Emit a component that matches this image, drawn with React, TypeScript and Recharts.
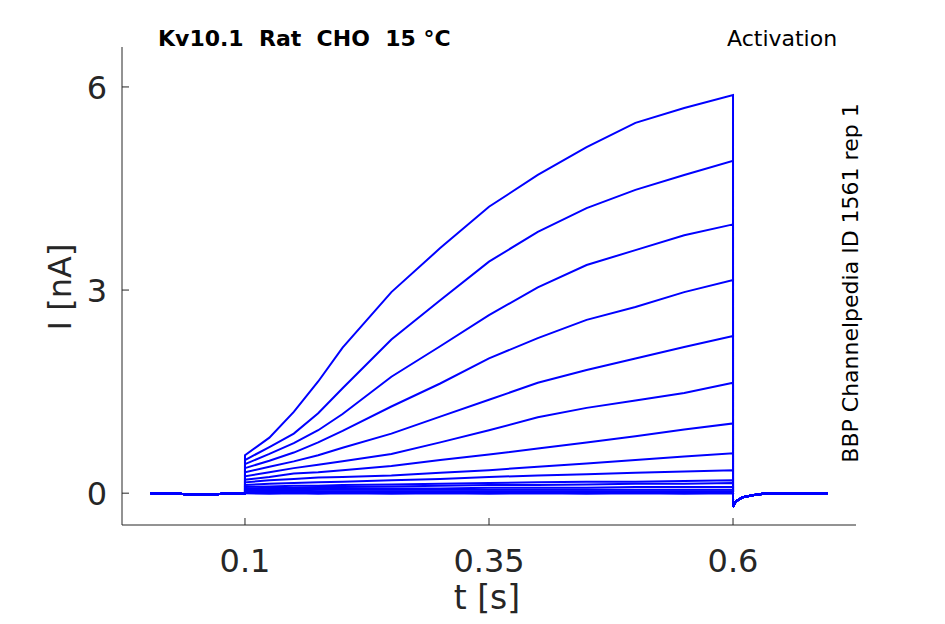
import React from 'react'
import { LineChart, Line, XAxis, YAxis } from 'recharts'

// baseline before the step (same for every sweep)
const preTimes = [0.003, 0.03, 0.04, 0.07, 0.08, 0.1]
const preValues = [0, 0, -0.02, -0.02, 0, 0]

// during the depolarising step
const stepTimes = [0.1, 0.125, 0.15, 0.175, 0.2, 0.25, 0.3, 0.35, 0.4, 0.45, 0.5, 0.55, 0.6]
const sweeps = [
  [0.56, 0.82, 1.2, 1.65, 2.15, 2.97, 3.62, 4.23, 4.7, 5.11, 5.47, 5.69, 5.88],
  [0.49, 0.68, 0.88, 1.18, 1.55, 2.27, 2.85, 3.42, 3.86, 4.21, 4.48, 4.7, 4.91],
  [0.43, 0.58, 0.74, 0.93, 1.17, 1.72, 2.17, 2.63, 3.04, 3.37, 3.59, 3.81, 3.97],
  [0.37, 0.48, 0.6, 0.75, 0.92, 1.28, 1.62, 1.99, 2.29, 2.56, 2.75, 2.97, 3.15],
  [0.31, 0.39, 0.47, 0.56, 0.67, 0.88, 1.13, 1.38, 1.63, 1.82, 1.99, 2.16, 2.32],
  [0.25, 0.31, 0.37, 0.42, 0.47, 0.58, 0.75, 0.93, 1.12, 1.26, 1.37, 1.48, 1.63],
  [0.2, 0.24, 0.29, 0.31, 0.34, 0.4, 0.49, 0.57, 0.66, 0.75, 0.84, 0.94, 1.03],
  [0.16, 0.19, 0.21, 0.23, 0.24, 0.26, 0.3, 0.34, 0.39, 0.44, 0.49, 0.54, 0.59],
  [0.12, 0.14, 0.15, 0.16, 0.17, 0.19, 0.21, 0.24, 0.26, 0.28, 0.3, 0.32, 0.34],
  [0.09, 0.1, 0.11, 0.11, 0.12, 0.13, 0.14, 0.15, 0.16, 0.17, 0.17, 0.18, 0.19],
  [0.07, 0.08, 0.08, 0.09, 0.09, 0.1, 0.11, 0.12, 0.12, 0.13, 0.14, 0.14, 0.15],
  [0.05, 0.06, 0.06, 0.06, 0.07, 0.07, 0.07, 0.08, 0.08, 0.08, 0.09, 0.09, 0.09],
  [0.04, 0.04, 0.04, 0.05, 0.05, 0.05, 0.05, 0.05, 0.05, 0.05, 0.05, 0.05, 0.05],
  [0.03, 0.03, 0.03, 0.03, 0.03, 0.03, 0.03, 0.03, 0.03, 0.03, 0.03, 0.03, 0.03],
  [0.01, 0.01, 0.01, 0.01, 0.01, 0.01, 0.01, 0.01, 0.01, 0.01, 0.01, 0.01, 0.01],
  [0.0, -0.01, 0.0, -0.01, 0.0, -0.01, 0.0, -0.01, 0.0, -0.01, 0.0, -0.01, 0.0],
]

// tail current after the step
const postTimes = [0.6, 0.603, 0.61, 0.62, 0.635, 0.697]
const postValues = [-0.2, -0.12, -0.06, -0.03, 0, 0]

const xTicks = [0.1, 0.35, 0.6]
const yTicks = [0, 3, 6]

const keys = sweeps.map((_, i) => `s${i}`)

const rows: Record<string, number>[] = []
preTimes.forEach((t, j) => {
  const r: Record<string, number> = { t }
  keys.forEach((k) => (r[k] = preValues[j]))
  rows.push(r)
})
stepTimes.forEach((t, j) => {
  const r: Record<string, number> = { t }
  keys.forEach((k, i) => (r[k] = sweeps[i][j]))
  rows.push(r)
})
postTimes.forEach((t, j) => {
  const r: Record<string, number> = { t }
  keys.forEach((k) => (r[k] = postValues[j]))
  rows.push(r)
})

const INK = '#262626'
const FONT = '"DejaVu Sans", sans-serif'

const YTick = (p: any) => (
  <g>
    <line x1={p.x} x2={p.x + 7} y1={p.y} y2={p.y} stroke={INK} />
    <text x={p.x - 15} y={p.y + 12} textAnchor="end" fontSize={32} fill={INK} fontFamily={FONT}>
      {p.payload.value}
    </text>
  </g>
)

const XTick = (p: any) => (
  <g>
    <line x1={p.x} x2={p.x} y1={p.y} y2={p.y - 7} stroke={INK} />
    <text x={p.x} y={p.y + 47} textAnchor="middle" fontSize={32} fill={INK} fontFamily={FONT}>
      {p.payload.value}
    </text>
  </g>
)

export default function App() {
  return (
    <div style={{ position: 'absolute', left: 0, top: 0, width: 945, height: 624, background: '#fff', fontFamily: FONT }}>
      <LineChart width={945} height={624} data={rows} margin={{ top: 47, right: 89, left: 62, bottom: 59 }}>
        <XAxis
          dataKey="t"
          type="number"
          domain={[-0.026, 0.726]}
          ticks={xTicks}
          tickSize={0}
          tickMargin={0}
          tickLine={false}
          axisLine={{ stroke: INK }}
          tick={<XTick />}
          height={40}
          allowDataOverflow
        />
        <YAxis
          type="number"
          domain={[-0.47, 6.59]}
          ticks={yTicks}
          tickSize={0}
          tickMargin={0}
          tickLine={false}
          axisLine={{ stroke: INK }}
          tick={<YTick />}
          width={60}
          allowDataOverflow
        />
        {keys.map((k) => (
          <Line key={k} dataKey={k} type="linear" stroke="#0000ff" strokeWidth={2} dot={false} isAnimationActive={false} />
        ))}
      </LineChart>
      <div style={{ position: 'absolute', left: 158, top: 26, fontSize: 22, lineHeight: 'normal', fontWeight: 'bold', color: '#000', whiteSpace: 'pre' }}>
        {'Kv10.1  Rat  CHO  15 °C'}
      </div>
      <div style={{ position: 'absolute', left: 727, top: 26, fontSize: 22, color: '#000' }}>Activation</div>
      <div
        style={{
          position: 'absolute',
          left: 850,
          top: 283,
          fontSize: 22,
          color: '#000',
          whiteSpace: 'nowrap',
          transform: 'translate(-50%, -50%) rotate(-90deg)',
        }}
      >
        BBP Channelpedia ID 1561 rep 1
      </div>
      <div
        style={{
          position: 'absolute',
          left: 60,
          top: 287,
          fontSize: 32,
          lineHeight: 'normal',
          color: INK,
          whiteSpace: 'nowrap',
          transform: 'translate(-50%, -50%) rotate(-90deg)',
        }}
      >
        I [nA]
      </div>
      <div
        style={{
          position: 'absolute',
          left: 487,
          top: 597,
          fontSize: 33,
          lineHeight: 'normal',
          color: INK,
          whiteSpace: 'nowrap',
          transform: 'translate(-50%, -50%)',
        }}
      >
        t [s]
      </div>
    </div>
  )
}
